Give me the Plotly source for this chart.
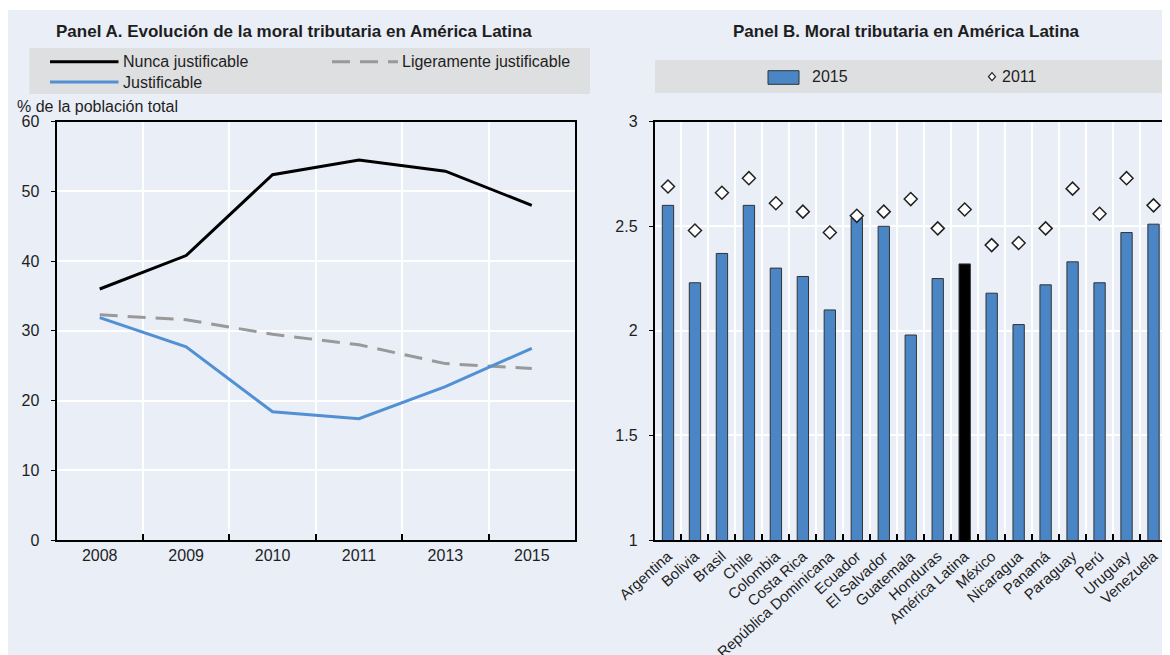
import plotly.graph_objects as go

# ---------------- data ----------------
years = ["2008", "2009", "2010", "2011", "2013", "2015"]
nunca = [36.0, 40.8, 52.4, 54.5, 52.9, 48.0]
ligeramente = [32.3, 31.6, 29.5, 28.0, 25.3, 24.6]
justificable = [31.9, 27.7, 18.4, 17.4, 22.0, 27.5]

countries = ["Argentina", "Bolivia", "Brasil", "Chile", "Colombia", "Costa Rica",
             "República Dominicana", "Ecuador", "El Salvador", "Guatemala", "Honduras",
             "América Latina", "México", "Nicaragua", "Panamá", "Paraguay", "Perú",
             "Uruguay", "Venezuela"]
v2015 = [2.60, 2.23, 2.37, 2.60, 2.30, 2.26, 2.10, 2.54, 2.50, 1.98, 2.25,
         2.32, 2.18, 2.03, 2.22, 2.33, 2.23, 2.47, 2.51]
v2011 = [2.69, 2.48, 2.66, 2.73, 2.61, 2.57, 2.47, 2.55, 2.57, 2.63, 2.49,
         2.58, 2.41, 2.42, 2.49, 2.68, 2.56, 2.73, 2.60]
highlight = "América Latina"

yticksA = [0, 10, 20, 30, 40, 50, 60]
yticksB = [1, 1.5, 2, 2.5, 3]

# ---------------- style ----------------
# the page body has an 8px margin, so the figure is placed at (8, 8)
OFF = 8
W, H = 1170 - OFF, 655 - OFF
BG = "#E9EEF7"
LEGBG = "#DEDFE0"
BLUE_BAR = "#4A86C6"
BLUE_LINE = "#5190D2"
GRAY = "#999999"
TXT = "#1E1E1E"
FONT = "Liberation Sans"

def X(px):
    return max(0.0, (px - OFF) / W)

def Y(py):
    return min(1.0, 1 - (py - OFF) / H)

fig = go.Figure()

fig.add_trace(go.Scatter(x=years, y=nunca, mode="lines", name="Nunca justificable",
                         line=dict(color="black", width=3), xaxis="x", yaxis="y"))
fig.add_trace(go.Scatter(x=years, y=ligeramente, mode="lines", name="Ligeramente justificable",
                         line=dict(color=GRAY, width=3, dash="18px,10px"), xaxis="x", yaxis="y"))
fig.add_trace(go.Scatter(x=years, y=justificable, mode="lines", name="Justificable",
                         line=dict(color=BLUE_LINE, width=3), xaxis="x", yaxis="y"))

bar_colors = ["black" if c == highlight else BLUE_BAR for c in countries]
fig.add_trace(go.Bar(x=countries, y=v2015, name="2015", marker=dict(color=bar_colors,
                     line=dict(color="#333333", width=1)), xaxis="x2", yaxis="y2",
                     width=0.42))
fig.add_trace(go.Scatter(x=countries, y=v2011, mode="markers", name="2011",
                         marker=dict(symbol="diamond", size=10, color="white",
                                     line=dict(color="#222222", width=1.5)),
                         xaxis="x2", yaxis="y2"))

tickfont = dict(family=FONT, size=16, color=TXT)
common_x = dict(type="category", showline=True, linecolor="black", mirror=True,
                showgrid=True, gridcolor="white", gridwidth=1.5, tickson="boundaries",
                ticks="inside", ticklen=6, tickcolor="black", tickwidth=1.5,
                zeroline=False, fixedrange=True, automargin=False)
common_y = dict(showline=True, linecolor="black", mirror=True, showgrid=True,
                gridcolor="white", gridwidth=1.5, ticks="outside", ticklen=4,
                tickcolor="black", zeroline=False, ticklabelstandoff=8, automargin=False)

fig.update_layout(
    width=W, height=H, autosize=False,
    margin=dict(l=0, r=0, t=0, b=0, pad=0, autoexpand=False),
    paper_bgcolor="white", plot_bgcolor=BG,
    showlegend=False,
    bargap=0.58,
    xaxis=dict(domain=[X(56.5), X(575)], range=[-0.5, 5.5], linewidth=2,
               tickfont=tickfont, **common_x),
    yaxis=dict(domain=[Y(540), Y(121.7)], range=[0, 60], tickvals=yticksA,
               linewidth=2, tickfont=tickfont, **common_y),
    xaxis2=dict(domain=[X(654.5), X(1167)], range=[-0.5, 18.5], linewidth=1.5,
                tickangle=-42, tickfont=dict(family=FONT, size=15, color=TXT),
                anchor="y2", **common_x),
    yaxis2=dict(domain=[Y(540), Y(121.7)], range=[1, 3], tickvals=yticksB,
                ticktext=[str(t) for t in yticksB], linewidth=1.5, anchor="x2",
                tickfont=tickfont, **common_y),
)

shapes = [
    # light-blue page background
    dict(type="rect", xref="paper", yref="paper", x0=X(6), x1=X(1170), y0=Y(655), y1=Y(10),
         fillcolor=BG, line=dict(width=0), layer="below"),
    # legend boxes
    dict(type="rect", xref="paper", yref="paper", x0=X(29.5), x1=X(590), y0=Y(94), y1=Y(48),
         fillcolor=LEGBG, line=dict(width=0), layer="below"),
    dict(type="rect", xref="paper", yref="paper", x0=X(655), x1=X(1170), y0=Y(93), y1=Y(60),
         fillcolor=LEGBG, line=dict(width=0), layer="below"),
    # panel A legend samples
    dict(type="line", xref="paper", yref="paper", x0=X(50), x1=X(118.5), y0=Y(61.7), y1=Y(61.7),
         line=dict(color="black", width=3)),
    dict(type="line", xref="paper", yref="paper", x0=X(332), x1=X(398), y0=Y(61.7), y1=Y(61.7),
         line=dict(color=GRAY, width=3, dash="18px,10px")),
    dict(type="line", xref="paper", yref="paper", x0=X(50), x1=X(118.5), y0=Y(82), y1=Y(82),
         line=dict(color=BLUE_LINE, width=3)),
    # panel B legend samples
    dict(type="rect", xref="paper", yref="paper", x0=X(768), x1=X(799), y0=Y(84.3), y1=Y(70.7),
         fillcolor=BLUE_BAR, line=dict(color="#333333", width=1)),
    dict(type="path", xref="paper", yref="paper",
         path=f"M {X(988.5)} {Y(76.7)} L {X(992)} {Y(72.7)} L {X(995.5)} {Y(76.7)} L {X(992)} {Y(80.7)} Z",
         fillcolor="white", line=dict(color="#222222", width=1.2)),
]
fig.update_layout(shapes=shapes)

ann = []
def txt(text, px, py, size=16, bold=False, xanchor="left"):
    ann.append(dict(text=f"<b>{text}</b>" if bold else text, xref="paper", yref="paper",
                    x=X(px), y=Y(py), xanchor=xanchor, yanchor="middle", showarrow=False,
                    font=dict(family=FONT, size=size, color=TXT)))

txt("Panel A. Evolución de la moral tributaria en América Latina", 294, 31.7, 17, True, "center")
txt("Panel B. Moral tributaria en América Latina", 907, 31.7, 17, True, "center")
txt("Nunca justificable", 121, 61.7)
txt("Ligeramente justificable", 400, 61.7)
txt("Justificable", 121, 82)
txt("% de la población total", 15, 106.5)
txt("2015", 810, 76.7)
txt("2011", 1000, 76.7)
fig.update_layout(annotations=ann)

fig.write_html("out.html")
